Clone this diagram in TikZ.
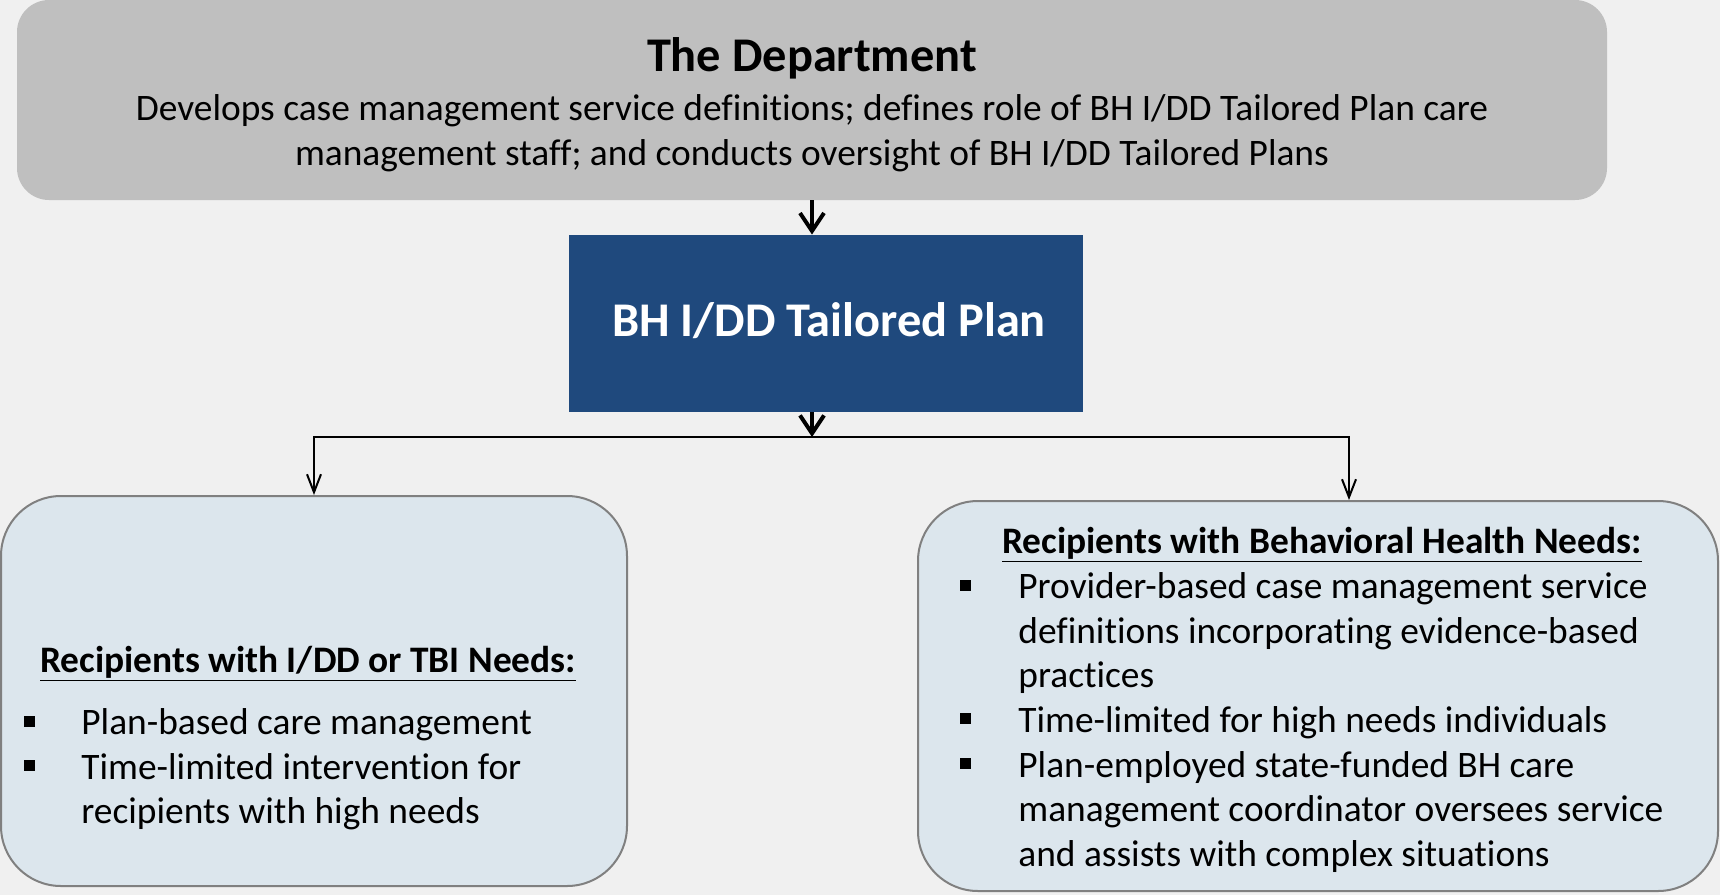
\documentclass[tikz,border=0pt]{standalone}
\usepackage{fontspec}
\setmainfont{Carlito}[Ligatures=NoCommon]
\usetikzlibrary{arrows.meta}
\definecolor{bgc}{HTML}{F0F0F0}
\definecolor{greyc}{HTML}{BFBFBF}
\definecolor{bluec}{HTML}{1F497D}
\definecolor{lightc}{HTML}{DCE6ED}
\definecolor{edgec}{HTML}{808080}
\newcommand{\bul}{\rule[4pt]{5.5pt}{5.5pt}}
\tikzset{
  greybox/.style={fill=greyc, rounded corners=16pt, inner sep=0pt},
  bluebox/.style={fill=bluec, inner sep=0pt},
  lightbox/.style={fill=lightc, draw=edgec, line width=1pt, rounded corners=30pt, inner sep=0pt},
  bodytext/.style={font=\fontsize{18.7}{22.3}\selectfont, inner sep=0pt},
  headtext/.style={font=\bfseries\fontsize{18.7}{22.3}\selectfont, inner sep=0pt},
  bigtext/.style={font=\bfseries\fontsize{24.2}{28}\selectfont, inner sep=0pt},
  arrthick/.style={line width=2pt, -{Straight Barb[length=9pt,width=12pt,line width=2pt]}},
  arrthin/.style={line width=1pt, -{Straight Barb[length=9pt,width=7pt]}},
}
\begin{document}
\begin{tikzpicture}[x=0.5pt,y=-0.5pt]
\fill[bgc] (0,0) rectangle (1720,895);
\useasboundingbox (0,0) rectangle (1720,895);
% top box
\node[greybox, minimum width=795pt, minimum height=100pt] (dept) at (812,100) {};
\node[bigtext] (depttitle) at (812,58) {The Department};
\node[bodytext, align=center] (depttext) at (812,133) {Develops case management service definitions; defines role of BH I/DD Tailored Plan care\\management staff; and conducts oversight of BH I/DD Tailored Plans};
% plan box
\node[bluebox, minimum width=257pt, minimum height=88.5pt] (plan) at (826,323.5) {};
\node[bigtext, text=white] (plantitle) at (829,321) {BH I/DD Tailored Plan};
% lower boxes
\node[lightbox, minimum width=313pt, minimum height=195pt] (left) at (314,691) {};
\node[lightbox, minimum width=400pt, minimum height=195pt] (right) at (1318,696) {};
\node[headtext] (lefthead) at (308,664) {\underline{Recipients with I/DD or TBI Needs:}};
\node[bodytext, anchor=north west] (leftlist) at (24,703) {%
\begin{tabular}{@{}p{28.5pt}@{}l@{}}
\bul & Plan-based care management\\
\bul & Time-limited intervention for\\
 & recipients with high needs
\end{tabular}};
\node[headtext] (righthead) at (1322,545) {\underline{Recipients with Behavioral Health Needs:}};
\node[bodytext, anchor=north west] (rightlist) at (960,567) {%
\begin{tabular}{@{}p{29pt}@{}l@{}}
\bul & Provider-based case management service\\
 & definitions incorporating evidence-based\\
 & practices\\
\bul & Time-limited for high needs individuals\\
\bul & Plan-employed state-funded BH care\\
 & management coordinator oversees service\\
 & and assists with complex situations
\end{tabular}};
% connectors
\coordinate (junc) at (812,437);
\draw[arrthick] (dept.south) -- (dept.south |- plan.north);
\draw[arrthick] (plan.south -| junc) -- (junc);
\draw[arrthin] (junc) -| (left.north);
\draw[arrthin] (junc) -| ([xshift=15.5pt]right.north);
\end{tikzpicture}
\end{document}
